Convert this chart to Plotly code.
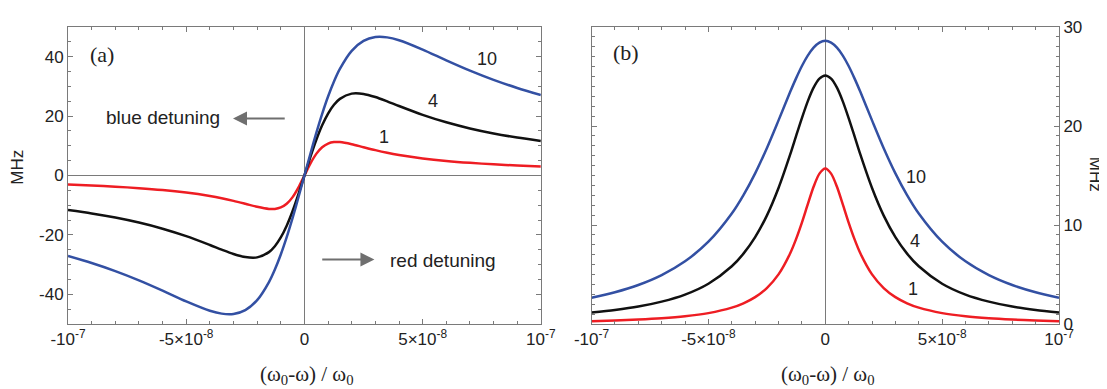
import plotly.graph_objects as go

# detuning in units of 1e-8
x_units = [-10, -9, -8, -7, -6, -5, -4, -3.5, -3, -2.5, -2, -1.5, -1.25, -1, -0.75, -0.5, -0.25, 0,
           0.25, 0.5, 0.75, 1, 1.25, 1.5, 2, 2.5, 3, 3.5, 4, 5, 6, 7, 8, 9, 10]

# panel (a) values in MHz
red_a = [-3.04, -3.36, -3.76, -4.26, -4.90, -5.76, -6.93, -7.67, -8.54, -9.52, -10.54, -11.25, -11.25, -10.76, -9.52, -7.28, -3.99, 0,
         3.99, 7.28, 9.52, 10.76, 11.25, 11.25, 10.54, 9.52, 8.54, 7.67, 6.93, 5.76, 4.90, 4.26, 3.76, 3.36, 3.04]
black_a = [-11.63, -12.78, -14.16, -15.85, -17.91, -20.42, -23.39, -24.96, -26.42, -27.47, -27.57, -25.79, -23.80, -20.87, -16.92, -11.97, -6.22, 0,
           6.22, 11.97, 16.92, 20.87, 23.80, 25.79, 27.57, 27.47, 26.42, 24.96, 23.39, 20.42, 17.91, 15.85, 14.16, 12.78, 11.63]
blue_a = [-27.11, -29.48, -32.21, -35.32, -38.78, -42.41, -45.56, -46.51, -46.60, -45.31, -41.98, -35.89, -31.66, -26.59, -20.75, -14.25, -7.25, 0,
          7.25, 14.25, 20.75, 26.59, 31.66, 35.89, 41.98, 45.31, 46.60, 46.51, 45.56, 42.41, 38.78, 35.32, 32.21, 29.48, 27.11]

# panel (b) values in MHz
red_b = [0.29, 0.36, 0.45, 0.58, 0.78, 1.10, 1.65, 2.09, 2.71, 3.63, 5.01, 7.14, 8.57, 10.24, 12.08, 13.86, 15.19, 15.7,
         15.19, 13.86, 12.08, 10.24, 8.57, 7.14, 5.01, 3.63, 2.71, 2.09, 1.65, 1.10, 0.78, 0.58, 0.45, 0.36, 0.29]
black_b = [1.16, 1.42, 1.76, 2.26, 2.97, 4.07, 5.83, 7.11, 8.78, 10.95, 13.74, 17.13, 18.98, 20.80, 22.49, 23.87, 24.78, 25.1,
           24.78, 23.87, 22.49, 20.80, 18.98, 17.13, 13.74, 10.95, 8.78, 7.11, 5.83, 4.07, 2.97, 2.26, 1.76, 1.42, 1.16]
blue_b = [2.66, 3.21, 3.94, 4.94, 6.33, 8.31, 11.16, 13.02, 15.22, 17.76, 20.57, 23.45, 24.81, 26.06, 27.11, 27.92, 28.43, 28.6,
          28.43, 27.92, 27.11, 26.06, 24.81, 23.45, 20.57, 17.76, 15.22, 13.02, 11.16, 8.31, 6.33, 4.94, 3.94, 3.21, 2.66]

tick_vals = [-1e-7, -5e-8, 0, 5e-8, 1e-7]
tick_text = ["-10<sup>-7</sup>", "-5×10<sup>-8</sup>", "0", "5×10<sup>-8</sup>", "10<sup>-7</sup>"]
ya_vals = [-40, -20, 0, 20, 40]
ya_text = ["-40", "-20", "0", "20", "40"]
yb_vals = [0, 10, 20, 30]
yb_text = ["0", "10", "20", "30"]
curve_labels = ["1", "4", "10"]

x = [v * 1e-8 for v in x_units]

RED = "#ee1d23"
BLACK = "#111111"
BLUE = "#3350a3"
FRAME = "#7a7a7a"

fig = go.Figure()
for ys, col in [(red_a, RED), (black_a, BLACK), (blue_a, BLUE)]:
    fig.add_trace(go.Scatter(x=x, y=ys, mode="lines", line=dict(color=col, width=2.5, shape="spline", smoothing=0.8),
                             xaxis="x", yaxis="y", showlegend=False, hoverinfo="skip"))
for ys, col in [(red_b, RED), (black_b, BLACK), (blue_b, BLUE)]:
    fig.add_trace(go.Scatter(x=x, y=ys, mode="lines", line=dict(color=col, width=2.5, shape="spline", smoothing=0.8),
                             xaxis="x2", yaxis="y2", showlegend=False, hoverinfo="skip"))

tickfont = dict(family="Liberation Sans, Arial, sans-serif", size=17, color="#222")

def xaxis(domain, anchor):
    return dict(domain=domain, anchor=anchor, range=[-1e-7, 1e-7], tickmode="array",
                tickvals=tick_vals, ticktext=tick_text, ticks="inside", ticklen=5, tickcolor=FRAME,
                showline=True, linecolor=FRAME, linewidth=1, mirror="ticks", showgrid=False,
                zeroline=True, zerolinecolor=FRAME, zerolinewidth=1, tickfont=tickfont,
                minor=dict(tick0=0, dtick=1e-8, ticks="inside", ticklen=3, tickcolor=FRAME, showgrid=False))

# page body has an 8px margin; figure is drawn at (8, 8)
OFF = 8
W = 1107 - OFF
H = 389 - OFF
L = 68 - OFF
T = 18 - OFF
R = W - (1059.3 - OFF)
B = H - (324 - OFF)
pw = W - L - R
ph = H - T - B
d1 = [0, (541 - 68) / pw]
d2 = [(591.7 - 68) / pw, 1]

def px(p):
    return (p - 68) / pw

def py(p):
    return (324 - p) / ph

fig.update_layout(
    width=W, height=H, margin=dict(l=L, r=R, t=T, b=B),
    paper_bgcolor="white", plot_bgcolor="white",
    xaxis=xaxis(d1, "y"),
    xaxis2=xaxis(d2, "y2"),
    yaxis=dict(domain=[0, 1], anchor="x", range=[-50, 50], tickmode="array", tickvals=ya_vals, ticktext=ya_text,
               ticks="inside", ticklen=5, tickcolor=FRAME, showline=True, linecolor=FRAME, linewidth=1,
               mirror="ticks", showgrid=False, zeroline=True, zerolinecolor=FRAME, zerolinewidth=1,
               tickfont=tickfont,
               minor=dict(tick0=0, dtick=5, ticks="inside", ticklen=3, tickcolor=FRAME, showgrid=False)),
    yaxis2=dict(domain=[0, 1], anchor="x2", side="right", range=[0, 30], tickmode="array", tickvals=yb_vals,
                ticktext=yb_text,
                ticks="inside", ticklen=5, tickcolor=FRAME, showline=True, linecolor=FRAME, linewidth=1,
                mirror="ticks", showgrid=False, zeroline=False, tickfont=tickfont,
                minor=dict(tick0=0, dtick=1, ticks="inside", ticklen=3, tickcolor=FRAME, showgrid=False)),
)

serif = dict(family="Liberation Serif, Times New Roman, serif", size=21, color="#222")
letter = dict(family="Liberation Serif, Times New Roman, serif", size=22, color="#222")
sans = dict(family="Liberation Sans, Arial, sans-serif", size=18, color="#222")
sans19 = dict(family="Liberation Sans, Arial, sans-serif", size=19, color="#222")

ann = []
# panel letters
ann.append(dict(x=-8.56e-8, y=40.6, xref="x", yref="y", text="(a)", showarrow=False, font=letter))
ann.append(dict(x=-8.53e-8, y=27.4, xref="x2", yref="y2", text="(b)", showarrow=False, font=letter))
# curve labels panel a
for (lx, ly), t in zip([(3.38e-8, 13.1), (5.42e-8, 25.0), (7.72e-8, 39.3)], curve_labels):
    ann.append(dict(x=lx, y=ly, xref="x", yref="y", text=t, showarrow=False, font=sans))
# curve labels panel b
for (lx, ly), t in zip([(3.76e-8, 3.54), (3.83e-8, 8.4), (3.9e-8, 14.85)], curve_labels):
    ann.append(dict(x=lx, y=ly, xref="x2", yref="y2", text=t, showarrow=False, font=sans))
# detuning texts
ann.append(dict(x=-5.97e-8, y=19.6, xref="x", yref="y", text="blue detuning", showarrow=False, font=sans19))
ann.append(dict(x=5.85e-8, y=-28.6, xref="x", yref="y", text="red detuning", showarrow=False, font=sans19))
# arrows
ann.append(dict(x=-3.02e-8, y=19.2, ax=-0.77e-8, ay=19.2, xref="x", yref="y", axref="x", ayref="y",
                text="", showarrow=True, arrowhead=2, arrowsize=1.4, arrowwidth=2, arrowcolor="#6f6f6f"))
ann.append(dict(x=2.96e-8, y=-28.3, ax=0.69e-8, ay=-28.3, xref="x", yref="y", axref="x", ayref="y",
                text="", showarrow=True, arrowhead=2, arrowsize=1.4, arrowwidth=2, arrowcolor="#6f6f6f"))
# axis titles
xt = "(ω<sub>0</sub>-ω) / ω<sub>0</sub>"
ann.append(dict(x=px(307), y=py(377), xref="paper", yref="paper", text=xt,
                showarrow=False, font=serif, xanchor="center", yanchor="middle"))
ann.append(dict(x=px(828), y=py(377), xref="paper", yref="paper", text=xt,
                showarrow=False, font=serif, xanchor="center", yanchor="middle"))
mhz = dict(family="Liberation Sans, Arial, sans-serif", size=17, color="#222")
ann.append(dict(x=px(18), y=py(163), xref="paper", yref="paper", text="MHz",
                textangle=-90, showarrow=False, font=mhz, xanchor="center", yanchor="middle"))
ann.append(dict(x=px(1096), y=py(170), xref="paper", yref="paper", text="MHz",
                textangle=90, showarrow=False, font=mhz, xanchor="center", yanchor="middle", borderpad=0))
fig.update_layout(annotations=ann)

fig.write_html("out.html",
               post_script="document.documentElement.style.overflow='hidden';document.body.style.overflow='hidden';")
